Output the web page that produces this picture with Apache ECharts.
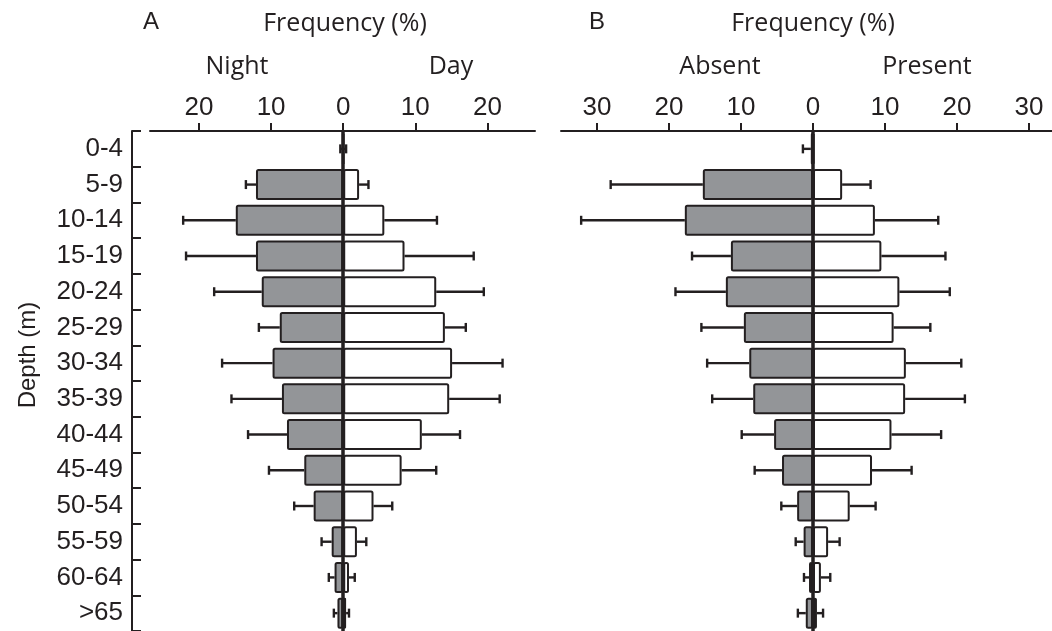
<!DOCTYPE html>
<html>
<head>
<meta charset="utf-8">
<script src="https://cdn.jsdelivr.net/npm/echarts@6/dist/echarts.min.js"></script>
<style>
  html, body { margin: 0; padding: 0; background: #fff; }
  #chart { width: 1052px; height: 631px; }
</style>
</head>
<body>
<div id="chart"></div>
<script>
// Depth classes (m)
const depthClasses = ['0-4', '5-9', '10-14', '15-19', '20-24', '25-29', '30-34',
  '35-39', '40-44', '45-49', '50-54', '55-59', '60-64', '>65'];

// Panel A: frequency (%) at night and by day, with error (%)
const nightFreq = [0.1, 12.1, 14.9, 12.1, 11.3, 8.8, 9.8, 8.5, 7.8, 5.4, 4.1, 1.6, 1.2, 0.8];
const nightErr  = [0.3, 1.4, 7.3, 9.7, 6.6, 2.9, 7.0, 7.0, 5.4, 4.9, 2.7, 1.4, 0.8, 0.5];
const dayFreq   = [0.1, 2.2, 5.7, 8.5, 12.9, 14.1, 15.1, 14.7, 10.9, 8.1, 4.2, 1.9, 0.8, 0.4];
const dayErr    = [0.3, 1.3, 7.3, 9.6, 6.6, 2.9, 7.0, 7.0, 5.3, 4.8, 2.6, 1.3, 0.8, 0.4];

// Panel B: frequency (%) where absent and where present, with error (%)
const absentFreq  = [0.3, 15.3, 17.8, 11.4, 12.1, 9.6, 8.85, 8.3, 5.4, 4.3, 2.2, 1.3, 0.55, 1.0];
const absentErr   = [1.1, 12.8, 14.4, 5.4, 7.0, 5.9, 5.85, 5.7, 4.5, 3.8, 2.2, 1.1, 0.7, 1.1];
const presentFreq = [0.2, 4.05, 8.6, 9.5, 12.0, 11.2, 12.9, 12.8, 10.9, 8.2, 5.1, 2.1, 1.1, 0.55];
const presentErr  = [0, 3.95, 8.8, 8.9, 7.0, 5.1, 7.7, 8.3, 6.9, 5.5, 3.6, 1.6, 1.3, 0.85];

// Tick labels on the frequency axes
const ticksA = [-20, -10, 0, 10, 20];
const ticksB = [-30, -20, -10, 0, 10, 20, 30];

const INK = '#231f20';
const GREY = '#939598';
const SANS = '"Liberation Sans", Arial, sans-serif';
const HUMAN = '"Open Sans", "Noto Sans", sans-serif';

function freqAxis(gridIndex, min, max, ticks) {
  return {
    type: 'value', gridIndex, position: 'top', min, max,
    axisLine: { show: true, onZero: false, lineStyle: { color: INK, width: 2 } },
    axisTick: { show: true, inside: false, length: 8, customValues: ticks,
      lineStyle: { color: INK, width: 2 } },
    axisLabel: { customValues: ticks, margin: 10, color: INK, fontFamily: SANS, fontSize: 26,
      formatter: v => String(Math.abs(v)) },
    splitLine: { show: false }
  };
}

function depthAxis(gridIndex, visible) {
  return {
    type: 'category', gridIndex, inverse: true, data: depthClasses,
    position: 'left', offset: 18, boundaryGap: true,
    axisLine: { show: visible, onZero: false, lineStyle: { color: INK, width: 2 } },
    axisTick: { show: visible, inside: true, length: 9, lineStyle: { color: INK, width: 2 } },
    axisLabel: { show: visible, margin: 9, color: INK, fontFamily: SANS, fontSize: 26 },
    splitLine: { show: false }
  };
}

function barSeries(idx, values, sign, fill, withCentre) {
  const s = {
    type: 'bar', xAxisIndex: idx, yAxisIndex: idx,
    data: values.map(v => sign * v),
    barWidth: 31, barGap: '-100%',
    itemStyle: { color: fill, borderColor: INK, borderWidth: 2, borderRadius: 1.5 },
    z: 3, silent: true
  };
  if (withCentre) {
    s.markLine = {
      symbol: 'none', silent: true, label: { show: false },
      lineStyle: { color: INK, width: 3.5, type: 'solid' },
      data: [{ xAxis: 0 }], z: 5
    };
  }
  return s;
}

function errorSeries(idx, values, errs, sign) {
  return {
    type: 'custom', xAxisIndex: idx, yAxisIndex: idx, z: 2, silent: true,
    data: values.map((v, i) => [sign * v, i, sign * (v + errs[i]), errs[i]]),
    encode: { x: [0, 2], y: 1 },
    renderItem: (params, api) => {
      if (api.value(3) <= 0) return null;
      const row = api.value(1);
      const a = api.coord([api.value(0), row]);
      const b = api.coord([api.value(2), row]);
      const st = { stroke: INK, lineWidth: 2.4 };
      return {
        type: 'group', children: [
          { type: 'line', shape: { x1: a[0], y1: a[1], x2: b[0], y2: b[1] }, style: st },
          { type: 'line', shape: { x1: b[0], y1: b[1] - 4.5, x2: b[0], y2: b[1] + 4.5 }, style: st }
        ]
      };
    }
  };
}

function label(text, x, y, font, size) {
  return {
    type: 'text', x, y, silent: true,
    style: { text, fill: INK, font: size + 'px ' + font, textAlign: 'center', textVerticalAlign: 'middle' }
  };
}

const chart = echarts.init(document.getElementById('chart'), null, { renderer: 'canvas' });
chart.setOption({
  animation: false,
  backgroundColor: '#fff',
  grid: [
    { left: 150, top: 131, width: 385, height: 502.6 },
    { left: 561, top: 131, width: 491, height: 502.6 }
  ],
  xAxis: [freqAxis(0, -26.8, 26.6, ticksA), freqAxis(1, -35, 33.2, ticksB)],
  yAxis: [depthAxis(0, true), depthAxis(1, false)],
  series: [
    errorSeries(0, nightFreq, nightErr, -1),
    errorSeries(0, dayFreq, dayErr, 1),
    barSeries(0, nightFreq, -1, GREY, false),
    barSeries(0, dayFreq, 1, '#ffffff', true),
    errorSeries(1, absentFreq, absentErr, -1),
    errorSeries(1, presentFreq, presentErr, 1),
    barSeries(1, absentFreq, -1, GREY, false),
    barSeries(1, presentFreq, 1, '#ffffff', true)
  ],
  graphic: [
    label('A', 151, 22, SANS, 24),
    label('B', 597, 22, SANS, 24),
    label('Frequency (%)', 345, 24, HUMAN, 25),
    label('Frequency (%)', 813, 24, HUMAN, 25),
    label('Night', 237, 67, HUMAN, 25),
    label('Day', 451, 67, HUMAN, 25),
    label('Absent', 720, 67, HUMAN, 25),
    label('Present', 927, 67, HUMAN, 25),
    Object.assign(label('Depth (m)', 28, 355, SANS, 24), { rotation: Math.PI / 2 })
  ]
});
</script>
</body>
</html>
